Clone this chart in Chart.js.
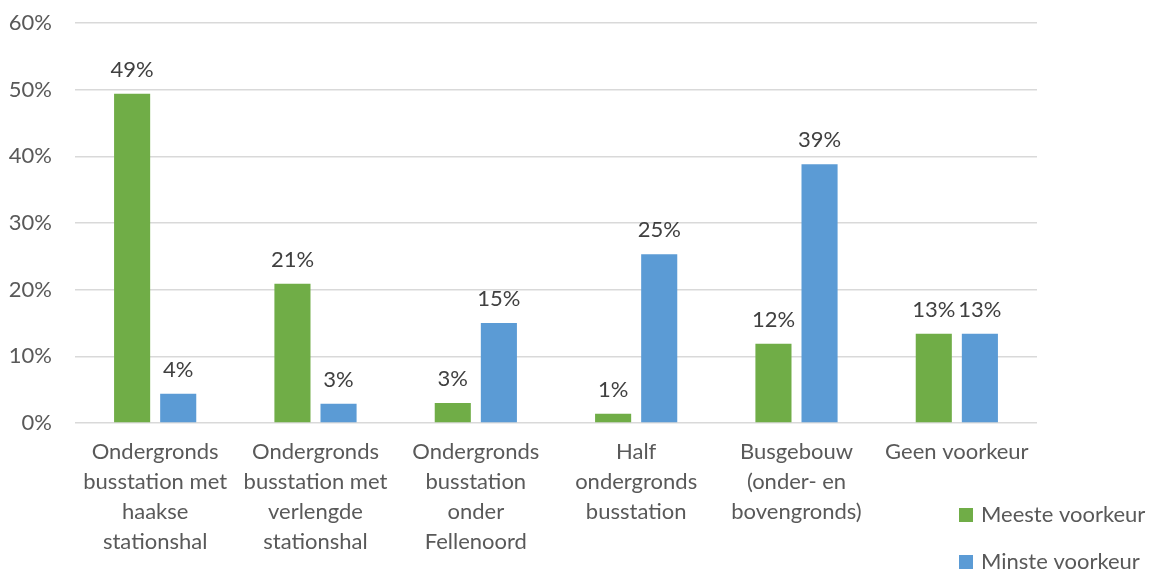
<!DOCTYPE html>
<html>
<head>
<meta charset="utf-8">
<script src="https://cdn.jsdelivr.net/npm/chart.js@4.4.1/dist/chart.umd.min.js"></script>
<style>
  html, body { margin: 0; padding: 0; background: #fff; }
  #wrap { width: 1149px; height: 570px; position: relative; }
</style>
</head>
<body>
<div id="wrap"><canvas id="chart"></canvas></div>
<script>
// data (percentages)
const categories = [
  ['Ondergronds', 'busstation met', 'haakse', 'stationshal'],
  ['Ondergronds', 'busstation met', 'verlengde', 'stationshal'],
  ['Ondergronds', 'busstation', 'onder', 'Fellenoord'],
  ['Half', 'ondergronds', 'busstation'],
  ['Busgebouw', '(onder- en', 'bovengronds)'],
  ['Geen voorkeur']
];
const meesteVoorkeur = [49.4, 20.9, 3.0, 1.4, 11.9, 13.4];
const minsteVoorkeur = [4.4, 2.9, 15.0, 25.3, 38.8, 13.4];
const yTicks = [0, 10, 20, 30, 40, 50, 60];

const FONT = 'Lato';
const ctx = document.getElementById('chart');

// value labels above each bar, like Excel's "outside end"
const barLabels = {
  id: 'barLabels',
  afterDatasetsDraw(chart) {
    const c = chart.ctx;
    c.save();
    c.font = '22px ' + FONT;
    c.fillStyle = '#404040';
    c.textAlign = 'center';
    c.textBaseline = 'alphabetic';
    chart.data.datasets.forEach(function(ds, i) {
      chart.getDatasetMeta(i).data.forEach(function(bar, j) {
        c.fillText(Math.round(ds.data[j]) + '%', bar.x, bar.y - 17);
      });
    });
    c.restore();
  }
};

// legend stacked in the bottom-right corner
const cornerLegend = {
  id: 'cornerLegend',
  afterDraw(chart) {
    const c = chart.ctx;
    c.save();
    c.font = '22px ' + FONT;
    c.textBaseline = 'middle';
    c.textAlign = 'left';
    const x = chart.width - 190;
    chart.data.datasets.forEach(function(ds, i) {
      const y = chart.height - 55 + i * 47;
      c.fillStyle = ds.backgroundColor;
      c.fillRect(x, y - 7, 14, 14);
      c.fillStyle = '#595959';
      c.fillText(ds.label, x + 22, y);
    });
    c.restore();
  }
};

new Chart(ctx, {
  type: 'bar',
  data: {
    labels: categories,
    datasets: [{
      label: 'Meeste voorkeur',
      data: meesteVoorkeur,
      backgroundColor: '#70AD47'
    }, {
      label: 'Minste voorkeur',
      data: minsteVoorkeur,
      backgroundColor: '#5B9BD5'
    }]
  },
  options: {
    responsive: true,
    maintainAspectRatio: false,
    animation: false,
    categoryPercentage: 0.575,
    barPercentage: 0.783,
    layout: { padding: { top: 23, right: 112, left: 0, bottom: 0 } },
    plugins: {
      legend: { display: false },
      tooltip: { enabled: false }
    },
    scales: {
      y: {
        min: 0,
        max: 60,
        afterBuildTicks(scale) {
          scale.ticks = yTicks.map(v => ({ value: v }));
        },
        afterFit(scale) {
          scale.width = 75;
          // the tick padding is also added above/below; drop it
          scale.paddingTop = 0;
          scale.paddingBottom = 0;
        },
        border: { display: false },
        grid: { color: '#d9d9d9', lineWidth: 1.5, drawTicks: false },
        ticks: {
          padding: 23,
          color: '#595959',
          font: { family: FONT, size: 22 },
          callback: v => v + '%'
        }
      },
      x: {
        afterFit(scale) { scale.height = 147; },
        border: { display: false },
        grid: { display: false, drawTicks: false },
        ticks: {
          padding: 14,
          maxRotation: 0,
          autoSkip: false,
          color: '#595959',
          font: { family: FONT, size: 22, lineHeight: 1.364 }
        }
      }
    }
  },
  plugins: [barLabels, cornerLegend]
});
</script>
</body>
</html>
